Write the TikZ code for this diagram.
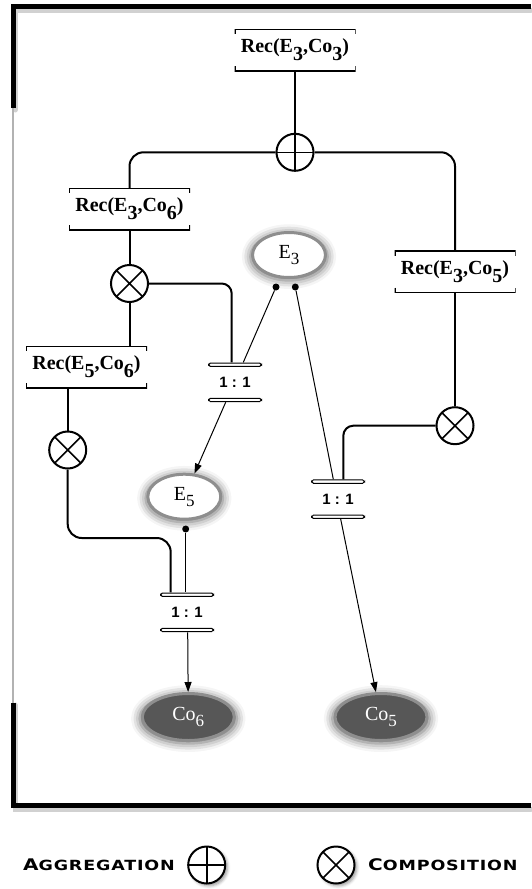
\documentclass[tikz,border=0pt]{standalone}
\usepackage{fontspec}
\setmainfont{Liberation Serif}
\newfontfamily\cardfont{Liberation Sans}
\newfontfamily\legendfont[FakeStretch=1.25,LetterSpace=6]{DejaVu Sans}
\usetikzlibrary{arrows.meta,shapes.geometric,shadows.blur}
\definecolor{cogray}{HTML}{575757}
\definecolor{rimgray}{HTML}{8E8E8E}
\newcommand{\dn}[1]{\raisebox{-8pt}{#1}}
\newcommand{\edn}[1]{\raisebox{-6pt}{\fontsize{17}{17}\selectfont#1}}

\begin{document}
\begin{tikzpicture}[x=1pt,y=-1pt,
  font=\fontsize{20}{24}\selectfont,
  rec/.style={minimum width=121, minimum height=42, inner sep=0pt,
              font=\fontsize{20}{24}\selectfont\bfseries,
              path picture={\draw[line width=2pt]
                ([yshift=-5pt]path picture bounding box.north west) -- (path picture bounding box.north west)
                -- (path picture bounding box.north east) -- ([yshift=-5pt]path picture bounding box.north east)
                ([yshift=5pt]path picture bounding box.south west) -- (path picture bounding box.south west)
                -- (path picture bounding box.south east) -- ([yshift=5pt]path picture bounding box.south east);}},
  agg/.style={circle, draw, line width=2pt, minimum size=37, inner sep=0pt, fill=white,
              path picture={\draw[line width=1.6pt]
                (path picture bounding box.north) -- (path picture bounding box.south)
                (path picture bounding box.west) -- (path picture bounding box.east);}},
  comp/.style={circle, draw, line width=2pt, minimum size=37, inner sep=0pt, fill=white,
               path picture={\draw[line width=1.6pt]
                 (path picture bounding box.north west) -- (path picture bounding box.south east)
                 (path picture bounding box.south west) -- (path picture bounding box.north east);}},
  card/.style={minimum width=54, minimum height=39.5, inner sep=0pt,
               font=\cardfont\bfseries\fontsize{15}{15}\selectfont,
               path picture={\draw[line width=1pt, fill=white, rounded corners=1.8pt]
                 ([shift={(.5pt,-.5pt)}]path picture bounding box.north west) rectangle
                 ([shift={(-.5pt,-3.8pt)}]path picture bounding box.north east)
                 ([shift={(.5pt,.5pt)}]path picture bounding box.south west) rectangle
                 ([shift={(-.5pt,3.8pt)}]path picture bounding box.south east);}},
  ent/.style={ellipse, draw=rimgray, line width=3pt, fill=white, minimum width=73, minimum height=45,
              inner sep=0pt, blur shadow={shadow xshift=0pt, shadow yshift=-1.5pt,
              shadow blur radius=8pt, shadow opacity=60, shadow scale=1.06}},
  co/.style={ent, fill=cogray, text=white, minimum width=92, minimum height=47},
  dot/.style={circle, fill=black, minimum size=7, inner sep=0pt},
  conn/.style={line width=2pt},
  link/.style={line width=1pt},
  arr/.style={-{Triangle[length=10pt, width=7pt]}},
  frame/.style={line width=5pt},
  legend/.style={font=\legendfont\bfseries, inner sep=0pt}
]
\useasboundingbox (0,0) rectangle (531,889);

% frame
\draw[frame, black!18, line cap=round] (15,110) -- (15,10) -- (531,10);
\draw[frame, black!18, line cap=round] (15,705) -- (15,809) -- (531,809);
\draw[frame] (13,108) -- (13,6) -- (531,6);
\draw[frame] (13,703) -- (13,805) -- (531,805);
\draw[black!30, line width=1.5pt] (13,108) -- (13,703);

% recovery boxes
\node[rec] (r3) at (295,50) {Rec(E\dn{3},Co\dn{3})};
\node[rec] (r6) at (129.5,209) {Rec(E\dn{3},Co\dn{6})};
\node[rec] (r5) at (455,271.5) {Rec(E\dn{3},Co\dn{5})};
\node[rec] (r56) at (86.5,367) {Rec(E\dn{5},Co\dn{6})};

% aggregation / composition
\node[agg] (agg) at (295,152.3) {};
\node[comp] (comp1) at (129.5,283.5) {};
\node[comp] (comp2) at (67.7,450) {};
\node[comp] (comp3) at (455,425.7) {};

% cardinalities
\node[card] (c1) at (235,382.3) {1 : 1};
\node[card] (c2) at (338,499.2) {1 : 1};
\node[card] (c3) at (187,612.3) {1 : 1};

% entities
\node[ent] (e3) at (289,255) {E\edn{3}};
\node[ent] (e5) at (184.3,496.7) {E\edn{5}};
\node[co] (co6) at (188.3,717) {Co\edn{6}};
\node[co] (co5) at (381,717) {Co\edn{5}};
\node[dot] (e3a) at (276,287) {};
\node[dot] (e3b) at (295.3,287) {};
\node[dot] (e5d) at (185.7,529) {};

% tree
\draw[conn] (r3.south) -- (agg.north);
\draw[conn, rounded corners=14] (agg.west) -| (r6.north);
\draw[conn, rounded corners=14] (agg.east) -| (r5.north);
\draw[conn] (r6.south) -- (comp1.north);
\draw[conn] (comp1.south) -- (comp1.south |- r56.north);
\draw[conn] (comp2.north |- r56.south) -- (comp2.north);
\draw[conn] (r5.south) -- (comp3.north);
\draw[conn, rounded corners=10] (comp1.east) -| ([xshift=-3.3pt]c1.north);
\draw[conn, rounded corners=14] (comp2.south) -- ++(0,68.5) -| ([xshift=-16.3pt]c3.north);
\draw[conn, rounded corners=10] (comp3.west) -| ([xshift=5.3pt]c2.north);

% links
\draw[link] (e3a) -- ([xshift=8.3pt]c1.north);
\draw[link, arr] ([xshift=-9.3pt]c1.south) -- (e5);
\draw[link] (e3b) -- ([xshift=-4.7pt]c2.north);
\draw[link, arr] ([xshift=2.7pt]c2.south) -- (co5);
\draw[link] (e5d) -- ([xshift=-1.3pt]c3.north);
\draw[link, arr] ([xshift=.7pt]c3.south) -- (co6);

% legend
\node[legend, anchor=east] (legaggtxt) at (175,865)
  {{\fontsize{16}{16}\selectfont A}{\fontsize{14}{16}\selectfont GGREGATION}};
\node[agg, blur shadow={shadow blur radius=3pt, shadow opacity=40}] (legagg) at (206.7,865) {};
\node[comp, blur shadow={shadow blur radius=3pt, shadow opacity=40}] (legcomp) at (336,865) {};
\node[legend, anchor=west] (legcomptxt) at (368,865)
  {{\fontsize{16}{16}\selectfont C}{\fontsize{14}{16}\selectfont OMPOSITION}};
\end{tikzpicture}
\end{document}
